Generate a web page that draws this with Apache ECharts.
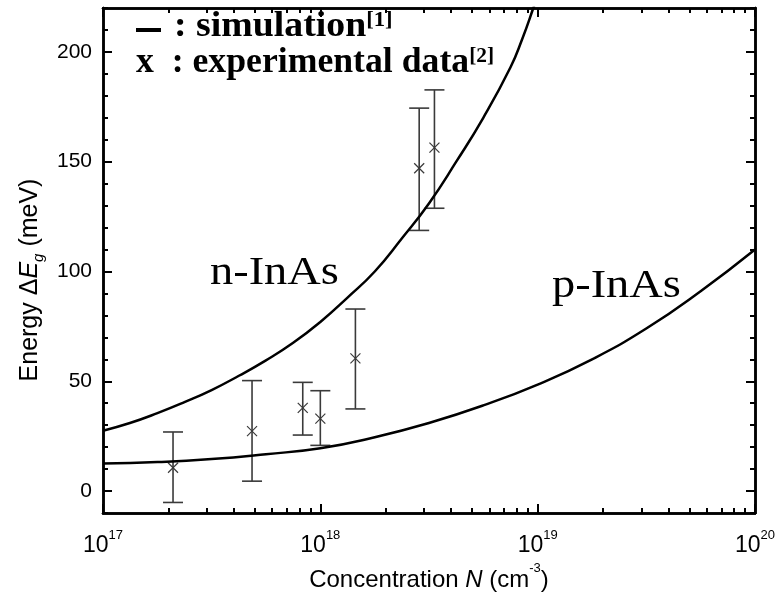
<!DOCTYPE html>
<html>
<head>
<meta charset="utf-8">
<script src="https://cdn.jsdelivr.net/npm/echarts@6/dist/echarts.min.js"></script>
<style>
html, body { margin: 0; padding: 0; background: #fff; }
#main { width: 777px; height: 596px; }
</style>
</head>
<body>
<div id="main"></div>
<script>
// simulation, n-InAs (concentration cm^-3 / energy meV)
var nConc = [1e17, 1.33e17, 1.78e17, 2.37e17, 3.16e17, 4.22e17, 5.62e17, 7.5e17, 1e18,
             1.33e18, 1.78e18, 2.37e18, 3.16e18, 4.22e18, 5.62e18, 7.5e18, 8.5e18, 9.55e18, 1e19];
var nEnergy = [27.5, 31, 35.5, 40.5, 46, 52.5, 59.5, 67.5, 77,
               88, 100, 115, 131, 150, 170, 193, 206, 220, 226];

// simulation, p-InAs
var pConc = [1e17, 1.78e17, 3.16e17, 5.62e17, 1e18, 1.78e18, 3.16e18, 5.62e18, 1e19, 1.78e19, 3.16e19, 5.62e19, 1e20];
var pEnergy = [12.5, 13.2, 14.6, 16.8, 19.5, 24.5, 31, 39, 48.5, 60, 74, 91, 110];

// experimental data with error bars
var expConc = [2.1e17, 4.85e17, 8.3e17, 1.0e18, 1.45e18, 2.85e18, 3.35e18];
var expEnergy = [10.6, 27.3, 37.9, 33, 60.4, 147, 156.4];
var expLow = [-5.2, 4.5, 25.5, 20.8, 37.4, 118.7, 128.8];
var expHigh = [26.9, 50.3, 49.5, 45.7, 82.9, 174.4, 182.7];

// axis ticks
var yLabels = [0, 50, 100, 150, 200];
var yMinor = [-10, 10, 20, 30, 40, 60, 70, 80, 90, 110, 120, 130, 140, 160, 170, 180, 190, 210, 220];
var xMinor = [];
[1e17, 1e18, 1e19].forEach(function (d) {
    for (var k = 2; k <= 9; k++) xMinor.push(k * d);
});

var chart = echarts.init(document.getElementById('main'));

function pairs(xs, ys) {
    return xs.map(function (x, i) { return [x, ys[i]]; });
}

var lineStyleAxis = { color: '#000', width: 2.5 };

function xAxisCfg(pos, major) {
    return {
        type: 'log', logBase: 10, min: 1e17, max: 1e20, position: pos,
        axisLine: { onZero: false, lineStyle: lineStyleAxis },
        axisTick: major ? { inside: true, length: 9, lineStyle: { width: 2, color: '#000' } }
                        : { inside: true, length: 5, customValues: xMinor, lineStyle: { width: 2, color: '#000' } },
        axisLabel: { show: false },
        splitLine: { show: false }
    };
}
function yAxisCfg(pos, major) {
    return {
        type: 'value', min: -10, max: 220, position: pos,
        axisLine: { show: true, onZero: false, lineStyle: lineStyleAxis },
        axisTick: major ? { inside: true, length: 9, customValues: yLabels, lineStyle: { width: 2, color: '#000' } }
                        : { inside: true, length: 5, customValues: yMinor, lineStyle: { width: 2, color: '#000' } },
        axisLabel: { show: false },
        splitLine: { show: false }
    };
}

var xMain = xAxisCfg('bottom', true);
xMain.axisLabel = {
    show: true, margin: 16,
    formatter: function (v) {
        return '{b|10}{s|' + Math.round(Math.log10(v)) + '}';
    },
    rich: {
        b: { fontFamily: 'Liberation Sans', fontSize: 23, color: '#000', verticalAlign: 'bottom', lineHeight: 28 },
        s: { fontFamily: 'Liberation Sans', fontSize: 13, color: '#000', verticalAlign: 'top', lineHeight: 28 }
    }
};
xMain.name = '{a|Concentration }{i|N}{a| (cm}{s|-3}{a|)}';
xMain.nameLocation = 'middle';
xMain.nameGap = 48;
xMain.nameTextStyle = {
    rich: {
        a: { fontFamily: 'Liberation Sans', fontSize: 24, color: '#000', verticalAlign: 'bottom', lineHeight: 30 },
        i: { fontFamily: 'Liberation Sans', fontSize: 24, fontStyle: 'italic', color: '#000', verticalAlign: 'bottom', lineHeight: 30 },
        s: { fontFamily: 'Liberation Sans', fontSize: 13, color: '#000', verticalAlign: 'top', lineHeight: 30 }
    }
};

var yMain = yAxisCfg('left', true);
yMain.axisLabel = {
    show: true, margin: 11, customValues: yLabels,
    fontFamily: 'Liberation Sans', fontSize: 21, color: '#000'
};

function renderErrorBar(params, api) {
    var x = api.value(0);
    var c = api.coord([x, api.value(1)]);
    var lo = api.coord([x, api.value(2)]);
    var hi = api.coord([x, api.value(3)]);
    var w = 10, m = 5;
    var st = { stroke: '#3a3a3a', lineWidth: 1.6, fill: null };
    return {
        type: 'group',
        children: [
            { type: 'line', shape: { x1: c[0], y1: hi[1], x2: c[0], y2: lo[1] }, style: st },
            { type: 'line', shape: { x1: c[0] - w, y1: hi[1], x2: c[0] + w, y2: hi[1] }, style: st },
            { type: 'line', shape: { x1: c[0] - w, y1: lo[1], x2: c[0] + w, y2: lo[1] }, style: st },
            { type: 'line', shape: { x1: c[0] - m, y1: c[1] - m, x2: c[0] + m, y2: c[1] + m }, style: { stroke: '#3a3a3a', lineWidth: 1.2 } },
            { type: 'line', shape: { x1: c[0] - m, y1: c[1] + m, x2: c[0] + m, y2: c[1] - m }, style: { stroke: '#3a3a3a', lineWidth: 1.2 } }
        ]
    };
}

var serif = '"Liberation Serif", "Times New Roman", serif';
var legendRich = {
    t: { fontFamily: serif, fontWeight: 'bold', fontSize: 35, fill: '#000', verticalAlign: 'bottom', lineHeight: 34 },
    s: { fontFamily: serif, fontWeight: 'bold', fontSize: 21, fill: '#000', verticalAlign: 'top', lineHeight: 34 }
};

var option = {
    backgroundColor: '#fff',
    animation: false,
    grid: { left: 103, right: 22, top: 8, bottom: 83, outerBoundsMode: 'none', containLabel: false },
    xAxis: [xMain, xAxisCfg('top', true), xAxisCfg('bottom', false), xAxisCfg('top', false)],
    yAxis: [yMain, yAxisCfg('right', true), yAxisCfg('left', false), yAxisCfg('right', false)],
    series: [
        {
            name: 'n-InAs', type: 'line', smooth: 0.5, showSymbol: false, clip: true,
            data: pairs(nConc, nEnergy),
            lineStyle: { color: '#000', width: 2.5 }
        },
        {
            name: 'p-InAs', type: 'line', smooth: 0.5, showSymbol: false, clip: true,
            data: pairs(pConc, pEnergy),
            lineStyle: { color: '#000', width: 2.5 }
        },
        {
            name: 'experimental', type: 'custom',
            renderItem: renderErrorBar,
            encode: { x: 0, y: [1, 2, 3] },
            data: expConc.map(function (x, i) { return [x, expEnergy[i], expLow[i], expHigh[i]]; })
        }
    ],
    graphic: [
        {
            type: 'text', x: 30, y: 280, rotation: Math.PI / 2,
            style: {
                text: '{a|Energy Δ}{i|E}{g|g}{a| (meV)}',
                textAlign: 'center', textVerticalAlign: 'middle',
                rich: {
                    a: { fontFamily: 'Liberation Sans', fontSize: 25, fill: '#000', verticalAlign: 'middle', lineHeight: 32 },
                    i: { fontFamily: 'Liberation Sans', fontSize: 25, fontStyle: 'italic', fill: '#000', verticalAlign: 'middle', lineHeight: 32 },
                    g: { fontFamily: 'Liberation Sans', fontSize: 15, fontStyle: 'italic', fill: '#000', verticalAlign: 'bottom', lineHeight: 32 }
                }
            }
        },
        { type: 'line', shape: { x1: 136, y1: 30, x2: 161, y2: 30 }, style: { stroke: '#000', lineWidth: 4 } },
        {
            type: 'text', x: 174, y: 10, scaleX: 1.08,
            style: { text: '{t|: simulation}{s|[1]}', rich: legendRich }
        },
        {
            type: 'text', x: 136, y: 46, scaleX: 1.02,
            style: { text: '{t|x  : experimental data}{s|[2]}', rich: legendRich }
        },
        {
            type: 'text', x: 210, y: 253, scaleX: 1.16,
            style: { text: 'n-InAs', fontFamily: serif, fontSize: 40, fill: '#000' }
        },
        {
            type: 'text', x: 552, y: 266, scaleX: 1.16,
            style: { text: 'p-InAs', fontFamily: serif, fontSize: 40, fill: '#000' }
        }
    ]
};

chart.setOption(option);
</script>
</body>
</html>
